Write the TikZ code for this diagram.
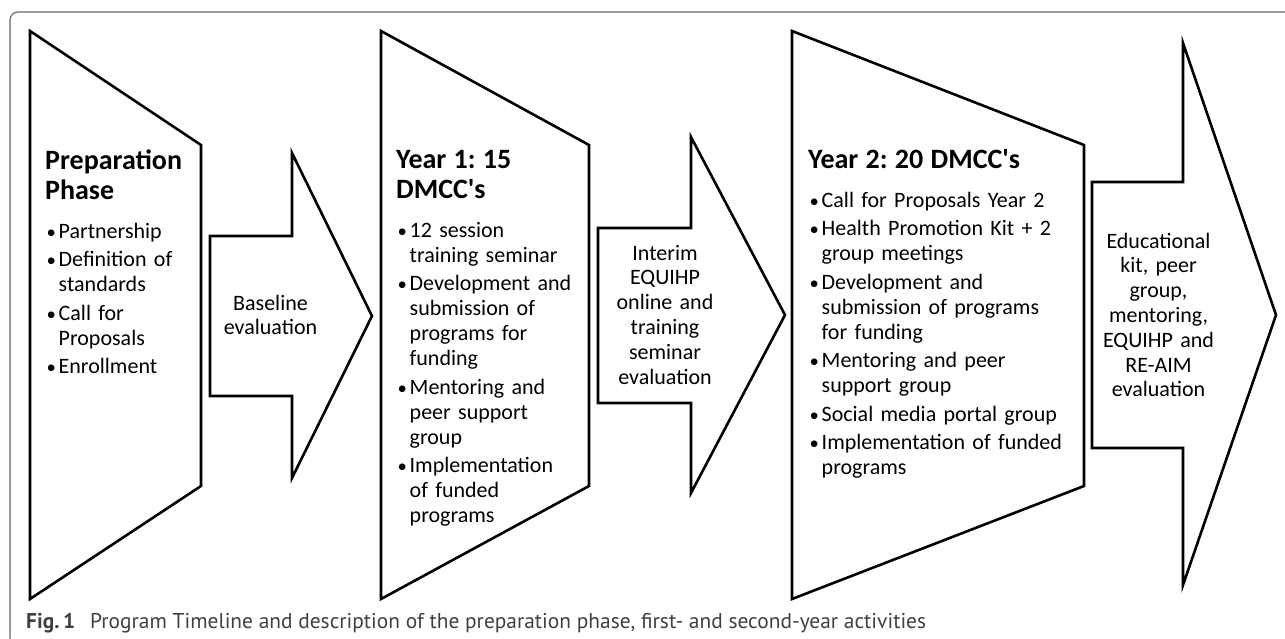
\documentclass[tikz,border=0pt]{standalone}
\usepackage{fontspec}
\setmainfont{Carlito}[Ligatures=TeXOff]
\newfontfamily\capfont{PT Sans}
\tikzset{
  outline/.style={draw=black, line width=2.6pt, line join=miter, fill=white},
  blk/.style={anchor=base west, inner sep=0pt, text width=280pt, font=\fontsize{22}{25}\selectfont},
  ctr/.style={anchor=base, inner sep=0pt, text width=150pt, align=center, font=\fontsize{22}{24.8}\selectfont},
  frame/.style={draw=black!60, line width=1.1pt, rounded corners=8pt},
}
\newcommand{\hd}[1]{{\fontsize{28}{30}\selectfont\bfseries #1\par}\vspace{10.5pt}}
\newcommand{\bi}[1]{\par\noindent\hangindent=13.5pt\hangafter=1\makebox[13.5pt][l]{\hspace{1.5pt}\scalebox{0.85}{\textbullet}}#1\par}
\begin{document}
\frenchspacing
\begin{tikzpicture}[x=1pt,y=-1pt]
\useasboundingbox (0,0) rectangle (1285,638);
\clip (0,0) rectangle (1285,638);
\fill[white] (0,0) rectangle (1285,638);
\draw[frame] (1300,12) -- (10,12) -- (10,646) -- (1300,646);
% stage shapes
\draw[outline] (30,31) -- (201,145) -- (201,486) -- (30,599) -- cycle;
\draw[outline] (381,31) -- (589,145) -- (589,486) -- (381,599) -- cycle;
\draw[outline] (792,31) -- (1084,145) -- (1084,486) -- (792,599) -- cycle;
% arrows
\draw[outline] (210,236) -- (292,236) -- (292,153) -- (372,316) -- (292,478) -- (292,396) -- (210,396) -- cycle;
\draw[outline] (598,228) -- (691,228) -- (691,137) -- (785,315) -- (691,493) -- (691,403) -- (598,403) -- cycle;
\draw[outline] (1092,182) -- (1183,182) -- (1183,43) -- (1276,315) -- (1183,585) -- (1183,448) -- (1092,448) -- cycle;
% texts
\node[blk] (prep) at (45,169) {\frenchspacing\setlength{\parskip}{3.5pt}\hd{Preparation\newline Phase}%
\bi{Partnership}\bi{Definition of\newline standards}\bi{Call for\newline Proposals}\bi{Enrollment}};
\node[blk] (y1) at (396,168) {\frenchspacing\setlength{\parskip}{3.5pt}\hd{Year 1: 15\newline DMCC's}%
\bi{12 session\newline training seminar}\bi{Development and\newline submission of\newline programs for\newline funding}\bi{Mentoring and\newline peer support\newline group}\bi{Implementation\newline of funded\newline programs}};
\node[blk] (y2) at (808,168) {\frenchspacing\setlength{\parskip}{3.5pt}\hd{Year 2: 20 DMCC's}%
\bi{Call for Proposals Year 2}\bi{Health Promotion Kit + 2\newline group meetings}\bi{Development and\newline submission of programs\newline for funding}\bi{Mentoring and peer\newline support group}\bi{Social media portal group}\bi{Implementation of funded\newline programs}};
\node[ctr] (base) at (270.5,310) {Baseline\\evaluation};
\node[ctr] (interim) at (665,260) {Interim\\EQUIHP\\online and\\training\\seminar\\evaluation};
\node[ctr] (edu) at (1158.5,248) {Educational\\kit, peer\\group,\\mentoring,\\EQUIHP and\\RE-AIM\\evaluation};
\node[anchor=base west, inner sep=0pt, font=\capfont\fontsize{21.4}{23}\selectfont, text=black!75] (cap) at (26,628)
  {\textbf{Fig.\,1}\hspace{0.7em}Program Timeline and description of the preparation phase, first- and second-year activities};
\end{tikzpicture}
\end{document}
